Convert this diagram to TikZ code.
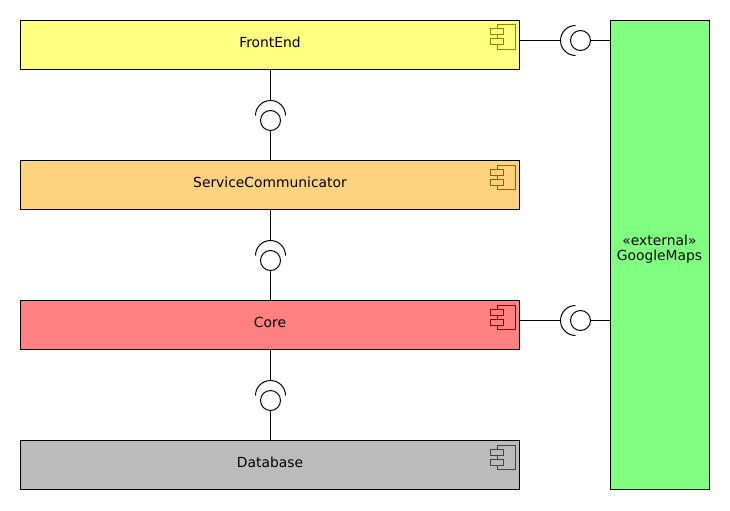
\documentclass[tikz,border=0pt]{standalone}
\usepackage{fontspec}
\setmainfont{DejaVu Sans}
\usetikzlibrary{arrows}
\pgfdeclarelayer{nodelayer}
\pgfdeclarelayer{edgelayer}
\pgfsetlayers{main,edgelayer,nodelayer}
\definecolor{frontcol}{HTML}{FFFF80}
\definecolor{servicecol}{HTML}{FFD280}
\definecolor{corecol}{HTML}{FF8080}
\definecolor{dbcol}{HTML}{BBBBBB}
\definecolor{mapscol}{HTML}{80FF80}
\definecolor{fronticon}{HTML}{8F8600}
\definecolor{serviceicon}{HTML}{9A5C08}
\definecolor{coreicon}{HTML}{990000}
\definecolor{dbicon}{HTML}{444444}
\tikzstyle{comp box}=[draw=black, line width=0.75pt, shape=rectangle, inner sep=0pt, minimum width=374.25pt, minimum height=36.75pt, font=\fontsize{10.4}{11.25}\selectfont]
\tikzstyle{ext box}=[comp box, minimum width=74.25pt, minimum height=351.75pt]
\tikzstyle{ball}=[fill=white, draw=black, line width=0.75pt, shape=circle, inner sep=0pt, minimum size=15pt]
\tikzstyle{wire}=[draw=black, line width=0.75pt]
\tikzstyle{cup}=[draw=black, line width=0.75pt, radius=11.25pt]
\newcommand{\compicon}[3]{
	\begin{scope}[shift={(#1.north east)}, draw=#2, line width=0.75pt]
		\draw (-23,5) rectangle (-5,29.5);
		\draw [fill=#3] (-30,9) rectangle (-17,15);
		\draw [fill=#3] (-30,19) rectangle (-17,25);
	\end{scope}
}
\newcommand{\boxtext}[1]{\raisebox{4pt}{#1}\hspace{1.5pt}}

\begin{document}
\begin{tikzpicture}[x=0.75pt, y=-0.75pt]
	\useasboundingbox (0, 0) rectangle (730, 510);
	\begin{pgfonlayer}{nodelayer}
		\node [style=comp box, fill=frontcol] (frontend) at (270, 45) {\boxtext{FrontEnd}};
		\node [style=comp box, fill=servicecol] (service) at (270, 185) {\boxtext{ServiceCommunicator}};
		\node [style=comp box, fill=corecol] (core) at (270, 325) {\boxtext{Core}};
		\node [style=comp box, fill=dbcol] (database) at (270, 465) {\boxtext{Database}};
		\node [style=ext box, fill=mapscol, label={[align=center, font=\fontsize{10.4}{11.25}\selectfont, yshift=4pt, xshift=-0.4pt]center:«external»\\GoogleMaps}] (maps) at (660, 255) {};
		\node [style=ball] (ball0) at (270.5, 120.5) {};
		\node [style=ball] (ball1) at (270.5, 260.5) {};
		\node [style=ball] (ball2) at (270.5, 400.5) {};
		\node [style=ball] (ball3) at (580.5, 40.5) {};
		\node [style=ball] (ball4) at (580.5, 320.5) {};
		\coordinate (cup0) at (270.5, 100.5);
		\coordinate (cup1) at (270.5, 240.5);
		\coordinate (cup2) at (270.5, 380.5);
		\coordinate (cup3) at (560.5, 40.5);
		\coordinate (cup4) at (560.5, 320.5);
		\compicon{frontend}{fronticon}{frontcol}
		\compicon{service}{serviceicon}{servicecol}
		\compicon{core}{coreicon}{corecol}
		\compicon{database}{dbicon}{dbcol}
	\end{pgfonlayer}
	\begin{pgfonlayer}{edgelayer}
		\draw [style=wire] (cup0 |- frontend.south) to (cup0);
		\draw [style=wire] (ball0) to (ball0 |- service.north);
		\draw [style=wire] (cup1 |- service.south) to (cup1);
		\draw [style=wire] (ball1) to (ball1 |- core.north);
		\draw [style=wire] (cup2 |- core.south) to (cup2);
		\draw [style=wire] (ball2) to (ball2 |- database.north);
		\draw [style=wire] (frontend.east |- cup3) to (cup3);
		\draw [style=wire] (ball3) to (maps.west |- ball3);
		\draw [style=wire] (core.east |- cup4) to (cup4);
		\draw [style=wire] (ball4) to (maps.west |- ball4);
		\draw [style=cup] (cup0) arc [start angle=90, end angle=180];
		\draw [style=cup] (cup0) arc [start angle=90, end angle=0];
		\draw [style=cup] (cup1) arc [start angle=90, end angle=180];
		\draw [style=cup] (cup1) arc [start angle=90, end angle=0];
		\draw [style=cup] (cup2) arc [start angle=90, end angle=180];
		\draw [style=cup] (cup2) arc [start angle=90, end angle=0];
		\draw [style=cup] (cup3) arc [start angle=180, end angle=90];
		\draw [style=cup] (cup3) arc [start angle=180, end angle=270];
		\draw [style=cup] (cup4) arc [start angle=180, end angle=90];
		\draw [style=cup] (cup4) arc [start angle=180, end angle=270];
	\end{pgfonlayer}
\end{tikzpicture}
\end{document}
